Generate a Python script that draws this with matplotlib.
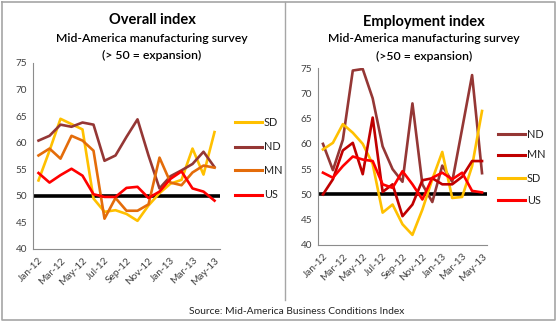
import numpy as np
import matplotlib
matplotlib.use('Agg')
import matplotlib.pyplot as plt
from matplotlib.lines import Line2D

plt.rcParams['font.family'] = ['Lato', 'DejaVu Sans']

# --- datos ---
months = ['Jan-12', 'Feb-12', 'Mar-12', 'Apr-12', 'May-12', 'Jun-12', 'Jul-12', 'Aug-12', 'Sep-12',
          'Oct-12', 'Nov-12', 'Dec-12', 'Jan-13', 'Feb-13', 'Mar-13', 'Apr-13', 'May-13']

# Overall index
overall_sd = [52.9, 58.5, 64.5, 63.5, 62.5, 49.5, 47.0, 47.3, 46.6, 45.3, 48.2, 50.5, 52.3, 53.0, 58.9, 54.0, 62.0]
overall_nd = [60.4, 61.3, 63.4, 63.0, 63.8, 63.4, 56.6, 57.6, 61.1, 64.4, 57.6, 51.4, 53.7, 54.8, 56.0, 58.3, 55.4]
overall_mn = [57.6, 58.9, 57.0, 61.3, 60.4, 58.5, 45.7, 49.6, 47.2, 47.2, 48.4, 57.2, 52.5, 52.0, 54.4, 55.7, 55.3]
overall_us = [54.3, 52.5, 53.9, 55.1, 53.8, 50.3, 49.8, 49.8, 51.5, 51.7, 49.6, 50.8, 53.2, 54.6, 51.4, 50.8, 49.1]

# Employment index
emp_nd = [60.0, 54.8, 60.8, 74.5, 74.8, 69.0, 59.5, 55.0, 52.5, 68.0, 52.0, 48.5, 55.7, 52.5, 63.0, 73.6, 54.2]
emp_mn = [50.0, 53.0, 58.7, 60.2, 54.0, 65.2, 50.5, 52.0, 45.7, 48.0, 52.8, 53.2, 52.0, 52.0, 53.5, 56.6, 56.6]
emp_sd = [58.9, 60.2, 63.9, 62.2, 60.0, 56.0, 46.4, 48.0, 44.1, 42.0, 47.0, 53.0, 58.4, 49.3, 49.5, 55.6, 66.5]
emp_us = [54.3, 53.3, 55.6, 57.5, 56.9, 56.6, 52.0, 51.3, 54.6, 52.0, 49.0, 53.3, 54.3, 53.0, 54.3, 50.7, 50.4]

baseline = 50

gold = '#FFC000'
brown = '#953735'
orange = '#E46C0A'
red = '#FF0000'
darkred = '#C00000'

W, H = 557, 324
fig = plt.figure(figsize=(W / 100, H / 100), dpi=100)


def px_axes(x0, y0, x1, y1):
    return fig.add_axes([x0 / W, 1 - y1 / H, (x1 - x0) / W, (y1 - y0) / H])


def style_axes(ax):
    x = np.arange(len(months))
    ax.plot([-0.5, len(months) - 0.5], [baseline, baseline], color='black', lw=2.6, zorder=1,
            solid_capstyle='butt')
    ax.set_xlim(-0.5, len(months) - 0.5)
    ax.set_ylim(40, 75)
    ax.set_yticks(range(40, 76, 5))
    ax.set_xticks(x[::2])
    ax.set_xticklabels(months[::2], rotation=45, ha='right', rotation_mode='anchor')
    ax.tick_params(axis='both', length=0, labelsize=7.2, colors='#404040', pad=4)
    ax.tick_params(axis='x', pad=5)
    for s in ['top', 'right']:
        ax.spines[s].set_visible(False)
    for s in ['left', 'bottom']:
        ax.spines[s].set_color('#8C8C8C')
        ax.spines[s].set_linewidth(0.8)
    return x


def legend_px(entries, x0, x1, ys):
    for (label, color), y in zip(entries, ys):
        fig.add_artist(Line2D([x0 / W, x1 / W], [1 - y / H, 1 - y / H], color=color, lw=2.2))
        fig.text((x1 + 2) / W, 1 - y / H, label, fontsize=7.8, va='center', ha='left', color='#222222')


# --- panel izquierdo ---
ax1 = px_axes(33, 63, 220, 249)
x = style_axes(ax1)
ax1.plot(x, overall_sd, color=gold, lw=1.9, zorder=2)
ax1.plot(x, overall_nd, color=brown, lw=1.9, zorder=3)
ax1.plot(x, overall_mn, color=orange, lw=1.9, zorder=4)
ax1.plot(x, overall_us, color=red, lw=1.9, zorder=5)
legend_px([('SD', gold), ('ND', brown), ('MN', orange), ('US', red)], 235, 262, [122, 147, 170, 195])

fig.text(152 / W, 1 - 20 / H, 'Overall index', fontsize=10.5, fontweight='bold', ha='center', va='center')
fig.text(152 / W, 1 - 38 / H, 'Mid-America manufacturing survey', fontsize=8.8, fontweight='semibold',
         ha='center', va='center')
fig.text(152 / W, 1 - 55 / H, '(> 50 = expansion)', fontsize=8.8, fontweight='semibold',
         ha='center', va='center')

# --- panel derecho ---
ax2 = px_axes(318, 68, 487, 245)
x = style_axes(ax2)
ax2.plot(x, emp_nd, color=brown, lw=1.9, zorder=2)
ax2.plot(x, emp_sd, color=gold, lw=1.9, zorder=3)
ax2.plot(x, emp_mn, color=darkred, lw=1.9, zorder=4)
ax2.plot(x, emp_us, color=red, lw=1.9, zorder=5)
legend_px([('ND', brown), ('MN', darkred), ('SD', gold), ('US', red)], 498, 525, [134, 155, 178, 200])

fig.text(424 / W, 1 - 22 / H, 'Employment index', fontsize=10.5, fontweight='bold', ha='center', va='center')
fig.text(424 / W, 1 - 39 / H, 'Mid-America manufacturing survey', fontsize=8.8, fontweight='semibold',
         ha='center', va='center')
fig.text(424 / W, 1 - 56 / H, '(>50 = expansion)', fontsize=8.8, fontweight='semibold',
         ha='center', va='center')

# --- marcos y fuente ---
border = '#A6A6A6'
fig.add_artist(Line2D([2 / W, 555 / W, 555 / W, 2 / W, 2 / W],
                      [1 - 2 / H, 1 - 2 / H, 1 - 320 / H, 1 - 320 / H, 1 - 2 / H], color=border, lw=1.2))
fig.add_artist(Line2D([285 / W, 285 / W], [1 - 2 / H, 1 - 300 / H], color=border, lw=1.0))
fig.text(297 / W, 1 - 311 / H, 'Source: Mid-America Business Conditions Index', fontsize=7.4,
         ha='center', va='center', color='#222222')

plt.savefig('out.png', dpi=100)
plt.close()
